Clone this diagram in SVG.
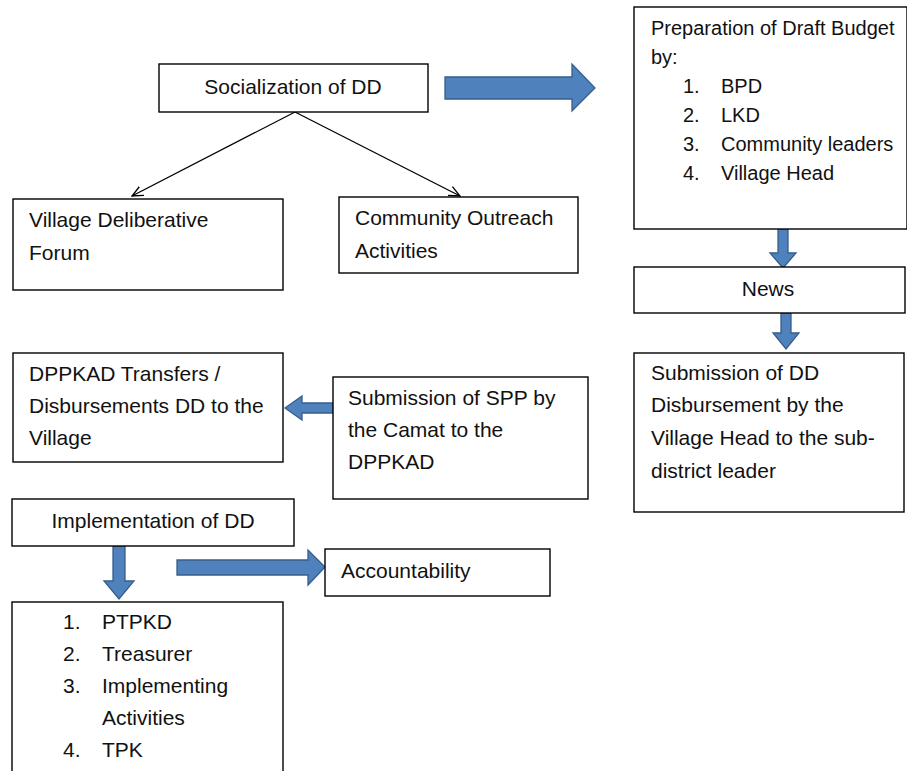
<svg xmlns="http://www.w3.org/2000/svg" width="907" height="771" viewBox="0 0 907 771">
<style>
.box{fill:#fff;stroke:#000;stroke-width:1.4}
text{font-family:"Liberation Sans",Arial,sans-serif;font-size:21px;fill:#111}
.s20{font-size:20px}
.c{text-anchor:middle}
.blk{fill:#4F81BD;stroke:#385D8A;stroke-width:1.3}
.ln{stroke:#000;stroke-width:1.3;fill:none}
</style>
<defs>
<marker id="open" viewBox="0 0 12 12" refX="11" refY="6" markerWidth="12" markerHeight="12" markerUnits="userSpaceOnUse" orient="auto">
<path d="M0,1 L11,6 L0,11" fill="none" stroke="#000" stroke-width="1.3"/>
</marker>
</defs>
<rect width="907" height="771" fill="#fff"/>
<g id="connectors">
<line class="ln" x1="295" y1="112" x2="132" y2="196" marker-end="url(#open)"/>
<line class="ln" x1="295" y1="112" x2="460" y2="196" marker-end="url(#open)"/>
<polygon class="blk" points="445,77 572,77 572,64 595,88 572,111 572,99 445,99"/>
<polygon class="blk" points="778,229 788,229 788,253 796,253 783,268 770,253 778,253"/>
<polygon class="blk" points="781,313 791,313 791,333 799,333 786,349 773,333 781,333"/>
<polygon class="blk" points="333,403 302,403 302,396 285,408 302,420 302,413 333,413"/>
<polygon class="blk" points="113,546 125,546 125,581 134,581 119,599 104,581 113,581"/>
<polygon class="blk" points="177,560 308,560 308,550 325,567 308,585 308,575 177,575"/>
</g>
<g id="socialization">
<rect class="box" x="159" y="64" width="269" height="48"/>
<text class="c" x="293" y="94">Socialization of DD</text>
</g>
<g id="village-forum">
<rect class="box" x="13" y="199" width="270" height="91"/>
<text x="29" y="227">Village Deliberative</text>
<text x="29" y="260">Forum</text>
</g>
<g id="community-outreach">
<rect class="box" x="339" y="197" width="239" height="76"/>
<text x="355" y="225">Community Outreach</text>
<text x="355" y="258">Activities</text>
</g>
<g id="draft-budget" class="s20">
<rect class="box" x="634" y="7" width="273" height="222"/>
<text class="s20" x="651" y="35">Preparation of Draft Budget</text>
<text class="s20" x="651" y="64">by:</text>
<text class="s20" x="683" y="93">1.</text><text class="s20" x="721" y="93">BPD</text>
<text class="s20" x="683" y="122">2.</text><text class="s20" x="721" y="122">LKD</text>
<text class="s20" x="683" y="151">3.</text><text class="s20" x="721" y="151">Community leaders</text>
<text class="s20" x="683" y="180">4.</text><text class="s20" x="721" y="180">Village Head</text>
</g>
<g id="news">
<rect class="box" x="634" y="267" width="271" height="46"/>
<text class="c" x="768" y="296">News</text>
</g>
<g id="submission-dd">
<rect class="box" x="634" y="353" width="270" height="159"/>
<text x="651" y="380">Submission of DD</text>
<text x="651" y="412">Disbursement by the</text>
<text x="651" y="445">Village Head to the sub-</text>
<text x="651" y="478">district leader</text>
</g>
<g id="dppkad-transfers">
<rect class="box" x="13" y="353" width="270" height="109"/>
<text x="29" y="381">DPPKAD Transfers /</text>
<text x="29" y="413">Disbursements DD to the</text>
<text x="29" y="445">Village</text>
</g>
<g id="submission-spp">
<rect class="box" x="333" y="377" width="255" height="122"/>
<text x="348" y="405">Submission of SPP by</text>
<text x="348" y="437">the Camat to the</text>
<text x="348" y="469">DPPKAD</text>
</g>
<g id="implementation">
<rect class="box" x="12" y="499" width="282" height="47"/>
<text class="c" x="153" y="528">Implementation of DD</text>
</g>
<g id="accountability">
<rect class="box" x="325" y="549" width="225" height="47"/>
<text x="341" y="578">Accountability</text>
</g>
<g id="implementers">
<rect class="box" x="12" y="602" width="271" height="185"/>
<text x="63" y="629">1.</text><text x="102" y="629">PTPKD</text>
<text x="63" y="661">2.</text><text x="102" y="661">Treasurer</text>
<text x="63" y="693">3.</text><text x="102" y="693">Implementing</text>
<text x="102" y="725">Activities</text>
<text x="63" y="757">4.</text><text x="102" y="757">TPK</text>
</g>
</svg>
